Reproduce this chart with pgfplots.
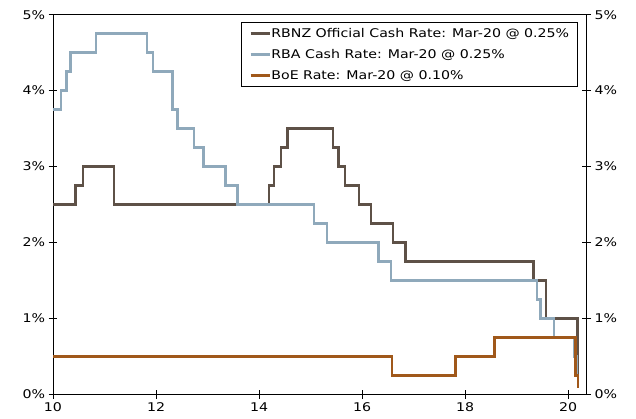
\documentclass[border=0pt]{standalone}
\usepackage{pgfplots}
\pgfplotsset{compat=1.18}
\usepackage{fontspec}
\setmainfont{DejaVu Sans}[FakeStretch=1.18]
\definecolor{rbnz}{HTML}{5E5147}
\definecolor{rba}{HTML}{8FA9BB}
\definecolor{boe}{HTML}{A0581A}
\begin{document}
\begin{tikzpicture}
\pgfplotsset{
  common/.style={
    scale only axis, width=533.7bp, height=379.6bp,
    xmin=10, xmax=20.36, ymin=0, ymax=5,
    tick align=center, major tick length=9bp,
    ticklabel style={font=\fontsize{12bp}{14bp}\selectfont},
    /pgf/number format/assume math mode=true,
    ytick={0,1,2,3,4,5},
    yticklabel={\pgfmathprintnumber{\tick}\%},
    axis line style={line width=0.9bp},
    every tick/.style={black, line width=0.9bp},
  }
}
\begin{axis}[common,
  xtick={10,12,14,16,18,20},
  xtick pos=bottom, ytick pos=left,
  legend image code/.code={\path (0bp,0bp) -- (19bp,0bp); \draw[#1,line width=2.4bp] (4bp,0bp) -- (19bp,0bp);},
  legend style={at={(0.9837,0.98)}, anchor=north east, draw=black, line width=0.7bp,
    font=\fontsize{12bp}{14bp}\selectfont, inner xsep=8bp, inner ysep=3.5bp, row sep=6.5bp,
    nodes={inner xsep=0.5bp, inner ysep=2bp},
    cells={anchor=west}},
  legend cell align=left,
]
\addplot[const plot, rbnz, line width=2.4bp] coordinates {
(10,2.5)(10.44,2.75)(10.58,3.0)(11.18,2.5)(14.19,2.75)(14.29,3.0)(14.43,3.25)(14.55,3.5)(15.43,3.25)(15.54,3.0)(15.67,2.75)(15.94,2.5)(16.17,2.25)(16.60,2.0)(16.84,1.75)(19.33,1.5)(19.57,1.0)(20.18,0.25)(20.2,0.25)};
\addlegendentry{RBNZ Official Cash Rate: Mar-20 @ 0.25\%}
\addplot[const plot, rba, line width=2.4bp] coordinates {
(10,3.75)(10.16,4.0)(10.26,4.25)(10.34,4.5)(10.83,4.75)(11.83,4.5)(11.94,4.25)(12.32,3.75)(12.42,3.5)(12.74,3.25)(12.92,3.0)(13.35,2.75)(13.58,2.5)(15.07,2.25)(15.32,2.0)(16.32,1.75)(16.56,1.5)(19.39,1.25)(19.46,1.0)(19.73,0.75)(20.12,0.5)(20.16,0.25)(20.2,0.25)};
\addlegendentry{RBA Cash Rate: Mar-20 @ 0.25\%}
\addplot[const plot, boe, line width=2.4bp] coordinates {
(10,0.5)(16.58,0.25)(17.81,0.5)(18.57,0.75)(20.14,0.25)(20.19,0.1)(20.2,0.1)};
\addlegendentry{BoE Rate: Mar-20 @ 0.10\%}
\coordinate (sw) at (rel axis cs:0,0);
\coordinate (ne) at (rel axis cs:1,1);
\end{axis}
\begin{axis}[common,
  axis y line*=right, axis x line=none,
]
\end{axis}
\pgfresetboundingbox
\path ([xshift=-53bp,yshift=-24.7bp]sw) rectangle ([xshift=49.3bp,yshift=14.7bp]ne);
\end{tikzpicture}
\end{document}
